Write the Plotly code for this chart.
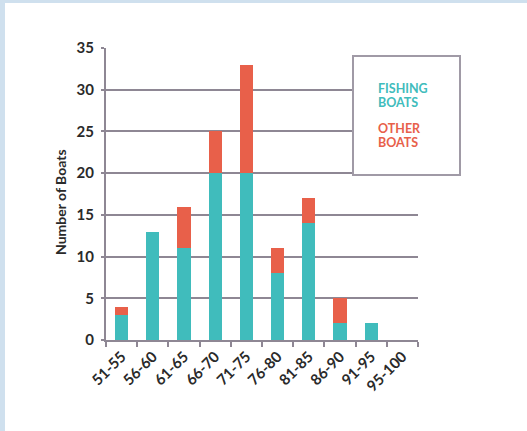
import plotly.graph_objects as go

categories = ["51-55", "56-60", "61-65", "66-70", "71-75", "76-80", "81-85", "86-90", "91-95", "95-100"]
fishing_boats = [3, 13, 11, 20, 20, 8, 14, 2, 2, 0]
other_boats = [1, 0, 5, 5, 13, 3, 3, 3, 0, 0]
y_ticks = [0, 5, 10, 15, 20, 25, 30, 35]

TEAL = "#40bcbc"
RED = "#e8604a"
GRID = "#8e8794"
FONT = "Lato"
TXT = "#2a2a2a"

W, H = 527, 431
L, R, T, B = 106, 109, 48, 91
pw, ph = W - L - R, H - T - B

def px(x):
    return (x - L) / pw

def py(y):
    return (H - B - y) / ph

fig = go.Figure()
fig.add_trace(go.Bar(x=categories, y=fishing_boats, marker=dict(color=TEAL, line=dict(width=0)), name="Fishing Boats"))
fig.add_trace(go.Bar(x=categories, y=other_boats, marker=dict(color=RED, line=dict(width=0)), name="Other Boats"))

fig.update_layout(
    width=W, height=H,
    margin=dict(l=L, r=R, t=T, b=B),
    barmode="stack", bargap=0.58,
    showlegend=False,
    paper_bgcolor="white", plot_bgcolor="white",
    font=dict(family=FONT, color=TXT),
)
fig.update_xaxes(
    type="category", range=[-0.5, 9.5], tickson="boundaries",
    ticks="outside", ticklen=5, tickcolor=GRID, tickwidth=2,
    showline=True, linecolor=GRID, linewidth=2, showgrid=False,
    tickangle=-45, tickfont=dict(family=FONT, size=15, color=TXT, weight="bold"),
)
fig.update_yaxes(
    range=[0, 35], tickvals=y_ticks, showgrid=True, gridcolor=GRID, gridwidth=2,
    ticks="outside", ticklen=3, tickcolor=GRID, tickwidth=2,
    showline=True, linecolor=GRID, linewidth=2, zeroline=False,
    ticklabelstandoff=4,
    tickfont=dict(family=FONT, size=15, color=TXT, weight="bold"),
)

# axis title
fig.add_annotation(x=px(60), y=py(202), xref="paper", yref="paper", text="Number of Boats",
                   xanchor="center", yanchor="middle",
                   textangle=-90, showarrow=False, font=dict(family=FONT, size=14, color=TXT, weight="bold"))

# legend box
fig.add_shape(type="rect", xref="paper", yref="paper", x0=px(353), x1=px(460), y0=py(175), y1=py(56),
              line=dict(color="#a09aa6", width=2), fillcolor="white", layer="above")
legend_lines = [("FISHING", 88, TEAL), ("BOATS", 102.5, TEAL), ("OTHER", 128, RED), ("BOATS", 142.5, RED)]
for txt, yy, col in legend_lines:
    fig.add_annotation(x=px(377), y=py(yy), xref="paper", yref="paper", text=txt,
                       xanchor="left", yanchor="middle", align="left", showarrow=False,
                       borderpad=0,
                       font=dict(family=FONT, size=12.5, color=col, weight="bold"))

# light blue frame strips
BLUE = "#cfe0ee"
fig.add_shape(type="rect", xref="paper", yref="paper", x0=px(0), x1=px(W), y0=py(3), y1=py(0),
              line=dict(width=0), fillcolor=BLUE, layer="above")
fig.add_shape(type="rect", xref="paper", yref="paper", x0=px(0), x1=px(5), y0=py(H), y1=py(0),
              line=dict(width=0), fillcolor=BLUE, layer="above")

fig.write_html("out.html")
